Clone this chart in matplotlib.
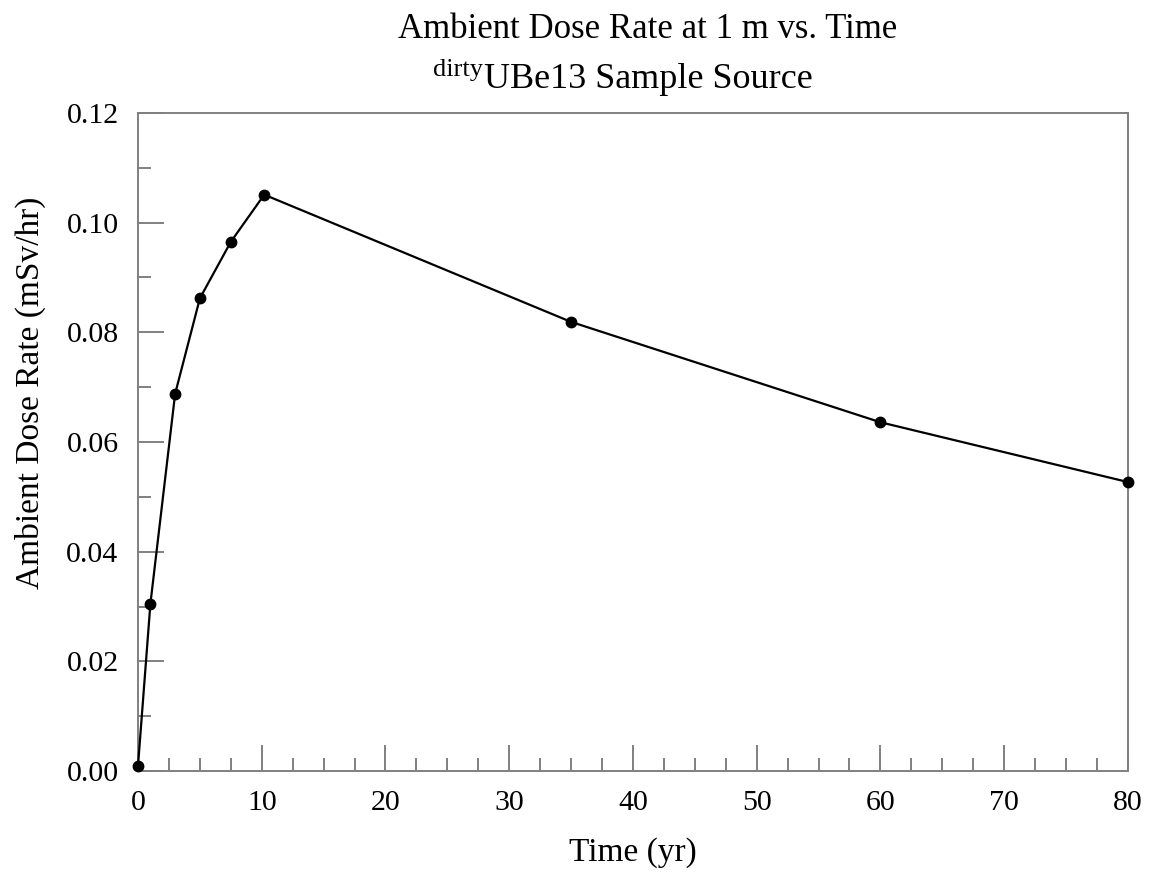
import matplotlib.pyplot as plt
from matplotlib.ticker import MultipleLocator

plt.rcParams['font.family'] = ['Liberation Serif', 'DejaVu Serif']

# Dose rate over time
time_yr = [0, 1, 3, 5, 7.5, 10.2, 35, 60, 80]
dose_rate = [0.001, 0.0305, 0.0688, 0.0862, 0.0965, 0.1051, 0.0819, 0.0636, 0.0527]

title_line1 = "Ambient Dose Rate at 1 m vs. Time"
title_sup = "dirty"
title_line2 = "UBe13 Sample Source"

fig = plt.figure(figsize=(11.55, 8.73), dpi=100)
ax = fig.add_axes([0.1195, 0.1168, 0.857, 0.7538])

ax.plot(time_yr, dose_rate, color='black', lw=1.6, marker='o', ms=7.5,
        clip_on=False, zorder=3)

ax.set_xlim(0, 80)
ax.set_ylim(0, 0.12)
ax.xaxis.set_major_locator(MultipleLocator(10))
ax.xaxis.set_minor_locator(MultipleLocator(2.5))
ax.yaxis.set_major_locator(MultipleLocator(0.02))
ax.yaxis.set_minor_locator(MultipleLocator(0.01))
ax.yaxis.set_major_formatter(plt.FormatStrFormatter('%.2f'))

ax.tick_params(which='both', direction='in', color='#808080', width=1.4,
               labelsize=21.5, top=False, right=False)
ax.tick_params(which='major', length=19)
ax.tick_params(which='minor', length=9.5)
ax.tick_params(axis='y', which='major', pad=14)
ax.tick_params(axis='x', which='major', pad=14)
for s in ax.spines.values():
    s.set_color('#808080')
    s.set_linewidth(1.4)

ax.set_xlabel("Time (yr)", fontsize=24, labelpad=15)
ax.set_ylabel("Ambient Dose Rate (mSv/hr)", fontsize=24)
ax.yaxis.set_label_coords(-0.093, 0.574)

# two-line title, second line with a raised prefix
fig.text(0.561, 1 - 38 / 873, title_line1, ha='center', va='baseline', fontsize=25)
main = fig.text(0.561, 1 - 88 / 873, title_line2, ha='center', va='baseline',
                fontsize=26)
ax.annotate(title_sup, xy=(0, 0), xycoords=main, xytext=(-1, 20),
            textcoords='offset pixels', ha='right', va='baseline', fontsize=19,
            annotation_clip=False)

fig.savefig("out.png", dpi=100)
